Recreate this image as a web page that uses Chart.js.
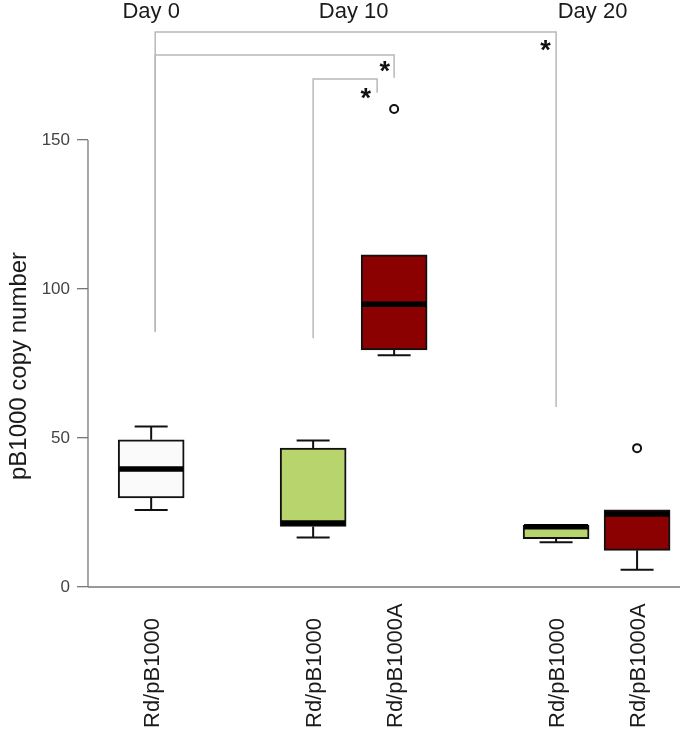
<!DOCTYPE html>
<html><head><meta charset="utf-8">
<script src="https://cdn.jsdelivr.net/npm/chart.js@4/dist/chart.umd.min.js"></script>
<style>html,body{margin:0;padding:0;background:#fff}#wrap{width:680px;height:733px;position:relative}</style>
</head><body><div id="wrap"><canvas id="c"></canvas></div>
<script>
// ---- data ----
const groupLabels = ['Rd/pB1000','Rd/pB1000','Rd/pB1000A','Rd/pB1000','Rd/pB1000A'];
const groupPositions = [1,3,4,6,7];
const dayLabels = ['Day 0','Day 10','Day 20'];
const dayPositions = [1,3.5,6.45];
const whiskerLow  = [25.8,16.6,77.8,15.0,5.8];
const q1          = [29.9,20.3,79.6,16.2,12.3];
const median      = [39.6,21.5,94.9,20.2,24.5];
const q3          = [49.4,46.6,111.5,20.7,25.9];
const whiskerHigh = [53.9,49.2,111.5,20.7,25.9];
const outlierX = [4,7];
const outlierY = [160.4,46.6];
const yTicks = [0,50,100,150];
const yTitle = 'pB1000 copy number';
const boxColors = ['#fafafa','#b8d46c','#8b0000','#b8d46c','#8b0000'];
// significance brackets
const bracketLeft     = [1.05,1.05,3];
const bracketRight    = [6,4,3.79];
const bracketTop      = [186.3,178.5,170.5];
const bracketLeftEnd  = [85.7,85.7,83.5];
const bracketRightEnd = [60.4,170.9,165.9];
const starX = [5.87,3.885,3.65];
const starY = [182.5,175.5,166.5];

const FONT = "'Liberation Sans', Arial, Helvetica, sans-serif";
Chart.defaults.font.family = FONT;

const boxPlugin = {
  id: 'boxExtras',
  afterDatasetsDraw(chart) {
    const {ctx, scales:{x, y}} = chart;
    const meta = chart.getDatasetMeta(0);
    ctx.save();
    ctx.strokeStyle = '#111';
    groupPositions.forEach((p, i) => {
      const cx = x.getPixelForValue(p);
      const bar = meta.data[i];
      const half = bar ? bar.width / 2 : 33;
      const capHalf = half / 2;
      ctx.lineWidth = 2;
      if (whiskerHigh[i] > q3[i]) {
        const yt = y.getPixelForValue(whiskerHigh[i]);
        ctx.beginPath(); ctx.moveTo(cx, y.getPixelForValue(q3[i])); ctx.lineTo(cx, yt); ctx.stroke();
        ctx.beginPath(); ctx.moveTo(cx - capHalf, yt); ctx.lineTo(cx + capHalf, yt); ctx.stroke();
      }
      if (whiskerLow[i] < q1[i]) {
        const yb = y.getPixelForValue(whiskerLow[i]);
        ctx.beginPath(); ctx.moveTo(cx, y.getPixelForValue(q1[i])); ctx.lineTo(cx, yb); ctx.stroke();
        ctx.beginPath(); ctx.moveTo(cx - capHalf, yb); ctx.lineTo(cx + capHalf, yb); ctx.stroke();
      }
      const ym = y.getPixelForValue(median[i]);
      ctx.lineWidth = 5.5;
      ctx.strokeStyle = '#000';
      ctx.beginPath(); ctx.moveTo(cx - half + 1, ym); ctx.lineTo(cx + half - 1, ym); ctx.stroke();
      ctx.strokeStyle = '#111';
    });
    ctx.restore();
  },
  afterDraw(chart) {
    const {ctx, scales:{x, y}, chartArea} = chart;
    ctx.save();
    // axes lines
    ctx.strokeStyle = '#777';
    ctx.lineWidth = 1.3;
    ctx.beginPath();
    ctx.moveTo(chartArea.left, y.getPixelForValue(yTicks[0]));
    ctx.lineTo(chartArea.left, y.getPixelForValue(yTicks[yTicks.length-1]));
    ctx.stroke();
    ctx.beginPath();
    ctx.moveTo(chartArea.left, y.getPixelForValue(0));
    ctx.lineTo(chartArea.right, y.getPixelForValue(0));
    ctx.stroke();
    // brackets
    ctx.strokeStyle = '#b8b8b8';
    ctx.lineWidth = 1.5;
    bracketLeft.forEach((l, i) => {
      const xl = x.getPixelForValue(l), xr = x.getPixelForValue(bracketRight[i]);
      const yt = y.getPixelForValue(bracketTop[i]);
      ctx.beginPath();
      ctx.moveTo(xl, y.getPixelForValue(bracketLeftEnd[i]));
      ctx.lineTo(xl, yt);
      ctx.lineTo(xr, yt);
      ctx.lineTo(xr, y.getPixelForValue(bracketRightEnd[i]));
      ctx.stroke();
    });
    // stars
    ctx.fillStyle = '#111';
    ctx.font = 'bold 27px ' + FONT;
    ctx.textAlign = 'center';
    ctx.textBaseline = 'alphabetic';
    starX.forEach((sx, i) => {
      ctx.fillText('*', x.getPixelForValue(sx), y.getPixelForValue(starY[i]) + 16);
    });
    // day labels
    ctx.font = '22px ' + FONT;
    ctx.fillStyle = '#1a1a1a';
    dayLabels.forEach((t, i) => {
      ctx.fillText(t, x.getPixelForValue(dayPositions[i]), 18);
    });
    // x category labels (rotated)
    ctx.textAlign = 'left';
    groupLabels.forEach((t, i) => {
      const px = x.getPixelForValue(groupPositions[i]) + 8;
      ctx.save();
      ctx.translate(px, 728);
      ctx.rotate(-Math.PI / 2);
      ctx.fillText(t, 0, 0);
      ctx.restore();
    });
    // y title
    ctx.font = '24px ' + FONT;
    ctx.textAlign = 'center';
    ctx.save();
    ctx.translate(26, 366);
    ctx.rotate(-Math.PI / 2);
    ctx.fillText(yTitle, 0, 0);
    ctx.restore();
    ctx.restore();
  }
};

new Chart(document.getElementById('c'), {
  type: 'bar',
  data: {
    datasets: [{
      type: 'bar',
      data: groupPositions.map((p, i) => ({x: p, y: [q1[i], q3[i]]})),
      backgroundColor: boxColors,
      borderColor: '#111',
      borderWidth: 2,
      borderSkipped: false,
      barThickness: 66
    }, {
      type: 'scatter',
      data: outlierX.map((p, i) => ({x: p, y: outlierY[i]})),
      pointStyle: 'circle',
      pointRadius: 4,
      borderColor: '#111',
      borderWidth: 2,
      backgroundColor: 'rgba(255,255,255,0)'
    }]
  },
  options: {
    responsive: true,
    maintainAspectRatio: false,
    animation: false,
    layout: {autoPadding: false, padding: {left: 0, right: 0, top: 0, bottom: 146}},
    plugins: {legend: {display: false}, tooltip: {enabled: false}},
    scales: {
      x: {
        type: 'linear', min: 0.22, max: 7.53, offset: false, display: false
      },
      y: {
        min: 0, max: 197,
        border: {display: false},
        grid: {drawOnChartArea: false, drawTicks: true, tickLength: 11, color: '#777', lineWidth: 1.3},
        ticks: {font: {size: 17}, color: '#444', padding: 7},
        afterBuildTicks(scale) { scale.ticks = yTicks.map(v => ({value: v})); },
        afterFit(scale) { scale.width = 88; scale.paddingTop = 0; scale.paddingBottom = 0; }
      }
    }
  },
  plugins: [boxPlugin]
});
</script>
</body></html>
